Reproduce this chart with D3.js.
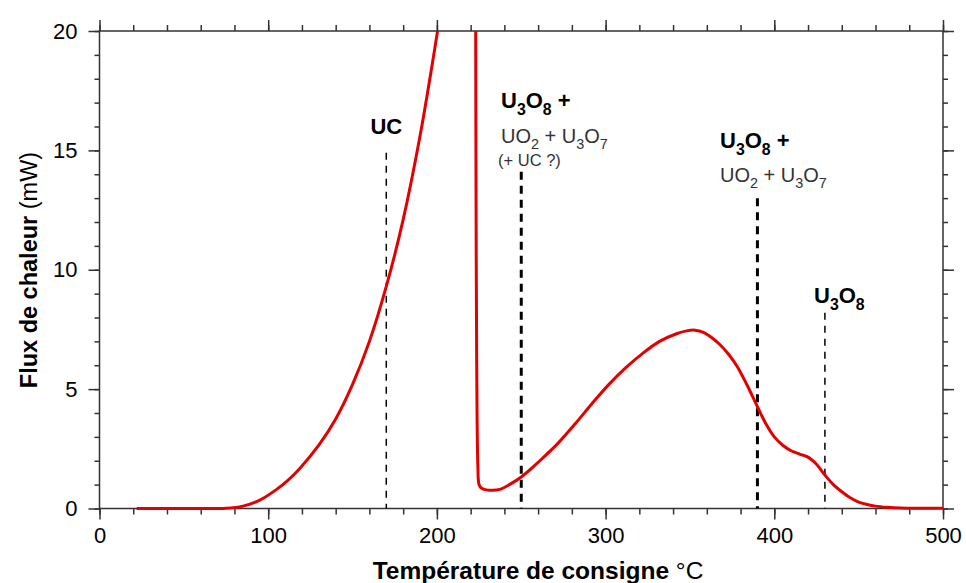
<!DOCTYPE html>
<html>
<head>
<meta charset="utf-8">
<script src="https://cdn.jsdelivr.net/npm/d3@7"></script>
<style>
  html, body { margin: 0; padding: 0; background: #fff; }
  svg text { font-family: "Liberation Sans", Arial, sans-serif; }
</style>
</head>
<body>
<svg id="chart" width="966" height="583"></svg>
<script>
// ---------- data ----------
const xTickValues = [0, 100, 200, 300, 400, 500];
const yTickValues = [0, 5, 10, 15, 20];

// heating segment (UC oxidation onset)
const seg1T = [22, 50, 75, 85, 95, 105, 112, 119, 130, 140, 150, 160, 170, 180, 190, 200.4];
const seg1V = [0, 0, 0.01, 0.1, 0.35, 0.8, 1.2, 1.7, 2.65, 3.75, 5.2, 7.0, 9.3, 12.1, 15.6, 20];

// second segment after the signal comes back on scale
const seg2T = [223, 223.2, 223.6, 224.3, 225, 226.5, 229.4, 233, 237.3, 243, 250, 261, 272, 282, 292, 302, 312, 322, 332, 342, 348, 353, 358, 363, 368, 373, 378, 384, 390.4, 395, 400, 405, 410, 415, 420, 425, 430, 435, 440, 445, 450, 455, 460, 467, 475, 487, 500];
const seg2V = [20, 13.4, 6, 1.75, 1.0, 0.85, 0.78, 0.76, 0.8, 1.0, 1.32, 2.0, 2.75, 3.55, 4.4, 5.2, 5.9, 6.5, 7.0, 7.32, 7.44, 7.47, 7.38, 7.15, 6.85, 6.45, 5.95, 5.15, 4.2, 3.55, 3.0, 2.65, 2.42, 2.28, 2.15, 1.85, 1.40, 1.0, 0.7, 0.45, 0.27, 0.17, 0.1, 0.05, 0.02, 0.01, 0.01];

// dashed markers: temperature, top value (mW), heavy?
const markerT = [170, 250, 390, 430];
const markerTop = [14.9, 14.1, 13.0, 8.2];
const markerHeavy = [false, true, true, false];

// ---------- layout ----------
const margin = { left: 99.5, right: 23, top: 31, bottom: 74.5 };
const W = 966, H = 583;
const svg = d3.select("#chart");
const x = d3.scaleLinear().domain([0, 500]).range([margin.left, W - margin.right]);
const y = d3.scaleLinear().domain([0, 20]).range([H - margin.bottom, margin.top]);

const axisColor = "#333";
const fs = 22;

function styleAxis(g) {
  g.select(".domain").remove();
  g.selectAll("line").attr("stroke", axisColor).attr("stroke-width", 1.5);
  g.selectAll("text").attr("fill", "#000").attr("font-size", fs);
}

const xMinor = d3.range(0, 501, 20);
const yMinor = d3.range(0, 21, 1);

// frame
svg.append("rect")
  .attr("x", x(0)).attr("y", y(20))
  .attr("width", x(500) - x(0)).attr("height", y(0) - y(20))
  .attr("fill", "none").attr("stroke", axisColor).attr("stroke-width", 1.5);

// bottom minor
svg.append("g").attr("transform", `translate(0,${y(0)})`)
  .call(d3.axisBottom(x).tickValues(xMinor).tickSize(6).tickFormat(""))
  .call(styleAxis);
// bottom major
svg.append("g").attr("transform", `translate(0,${y(0)})`)
  .call(d3.axisBottom(x).tickValues(xTickValues).tickSize(11).tickPadding(8).tickFormat(d3.format("d")))
  .call(styleAxis);
// top minor/major
svg.append("g").attr("transform", `translate(0,${y(20)})`)
  .call(d3.axisTop(x).tickValues(xMinor).tickSize(6).tickFormat(""))
  .call(styleAxis);
svg.append("g").attr("transform", `translate(0,${y(20)})`)
  .call(d3.axisTop(x).tickValues(xTickValues).tickSize(11).tickFormat(""))
  .call(styleAxis);
// left
svg.append("g").attr("transform", `translate(${x(0)},0)`)
  .call(d3.axisLeft(y).tickValues(yMinor).tickSize(5).tickFormat(""))
  .call(styleAxis);
svg.append("g").attr("transform", `translate(${x(0)},0)`)
  .call(d3.axisLeft(y).tickValues(yTickValues).tickSize(11).tickPadding(11).tickFormat(d3.format("d")))
  .call(styleAxis);
// right
svg.append("g").attr("transform", `translate(${x(500)},0)`)
  .call(d3.axisRight(y).tickValues(yMinor).tickSize(5).tickFormat(""))
  .call(styleAxis);
svg.append("g").attr("transform", `translate(${x(500)},0)`)
  .call(d3.axisRight(y).tickValues(yTickValues).tickSize(11).tickFormat(""))
  .call(styleAxis);

// dashed markers
markerT.forEach((t, i) => {
  svg.append("line")
    .attr("x1", x(t)).attr("x2", x(t))
    .attr("y1", y(markerTop[i])).attr("y2", y(0))
    .attr("stroke", "#000")
    .attr("stroke-width", markerHeavy[i] ? 3 : 1.5)
    .attr("stroke-dasharray", markerHeavy[i] ? "8,6" : "7,6");
});

// curve
const lineGen = d3.line().x(d => x(d[0])).y(d => y(d[1])).curve(d3.curveCatmullRom.alpha(0.5));
const s1 = seg1T.map((t, i) => [t, seg1V[i]]);
const s2 = seg2T.map((t, i) => [t, seg2V[i]]);
[s1, s2].forEach(s => {
  svg.append("path").datum(s)
    .attr("d", lineGen)
    .attr("fill", "none")
    .attr("stroke", "#e30000")
    .attr("stroke-width", 3)
    .attr("stroke-linejoin", "round");
});

// ---------- annotation helpers ----------
function chem(parent, px, py, parts, size, weight, color) {
  const t = parent.append("text").attr("x", px).attr("y", py)
    .attr("font-size", size).attr("font-weight", weight).attr("fill", color);
  let sub = false;
  parts.forEach(([txt, isSub]) => {
    const ts = t.append("tspan").text(txt);
    if (isSub && !sub) { ts.attr("dy", size * 0.3).attr("font-size", size * 0.72); sub = true; }
    else if (isSub) { ts.attr("font-size", size * 0.72); }
    else if (!isSub && sub) { ts.attr("dy", -size * 0.3); sub = false; }
  });
  return t;
}

// UC
svg.append("text").attr("x", x(170)).attr("y", 134).attr("text-anchor", "middle")
  .attr("font-size", 22).attr("font-weight", "bold").text("UC");

// U3O8 + (first)
chem(svg, 501, 108, [["U", false], ["3", true], ["O", false], ["8", true], [" +", false]], 22, "bold", "#000");
chem(svg, 501, 143, [["UO", false], ["2", true], [" + U", false], ["3", true], ["O", false], ["7", true]], 20, "normal", "#333");
svg.append("text").attr("x", 498).attr("y", 166).attr("font-size", 16.5).attr("fill", "#333").text("(+ UC ?)");

// U3O8 + (second)
chem(svg, 720, 148, [["U", false], ["3", true], ["O", false], ["8", true], [" +", false]], 22, "bold", "#000");
chem(svg, 720, 182, [["UO", false], ["2", true], [" + U", false], ["3", true], ["O", false], ["7", true]], 20, "normal", "#333");

// U3O8
chem(svg, 814, 303, [["U", false], ["3", true], ["O", false], ["8", true]], 22, "bold", "#000");

// axis titles
const xt = svg.append("text").attr("x", 538).attr("y", 579)
  .attr("text-anchor", "middle").attr("font-size", 24.5).attr("fill", "#000");
xt.append("tspan").attr("font-weight", "bold").text("Température de consigne ");
xt.append("tspan").attr("font-weight", "normal").text("°C");

const yt = svg.append("text")
  .attr("transform", `translate(37,270) rotate(-90)`)
  .attr("text-anchor", "middle").attr("font-size", 23.5).attr("fill", "#000");
yt.append("tspan").attr("font-weight", "bold").text("Flux de chaleur ");
yt.append("tspan").attr("font-weight", "normal").text("(mW)");
</script>
</body>
</html>
